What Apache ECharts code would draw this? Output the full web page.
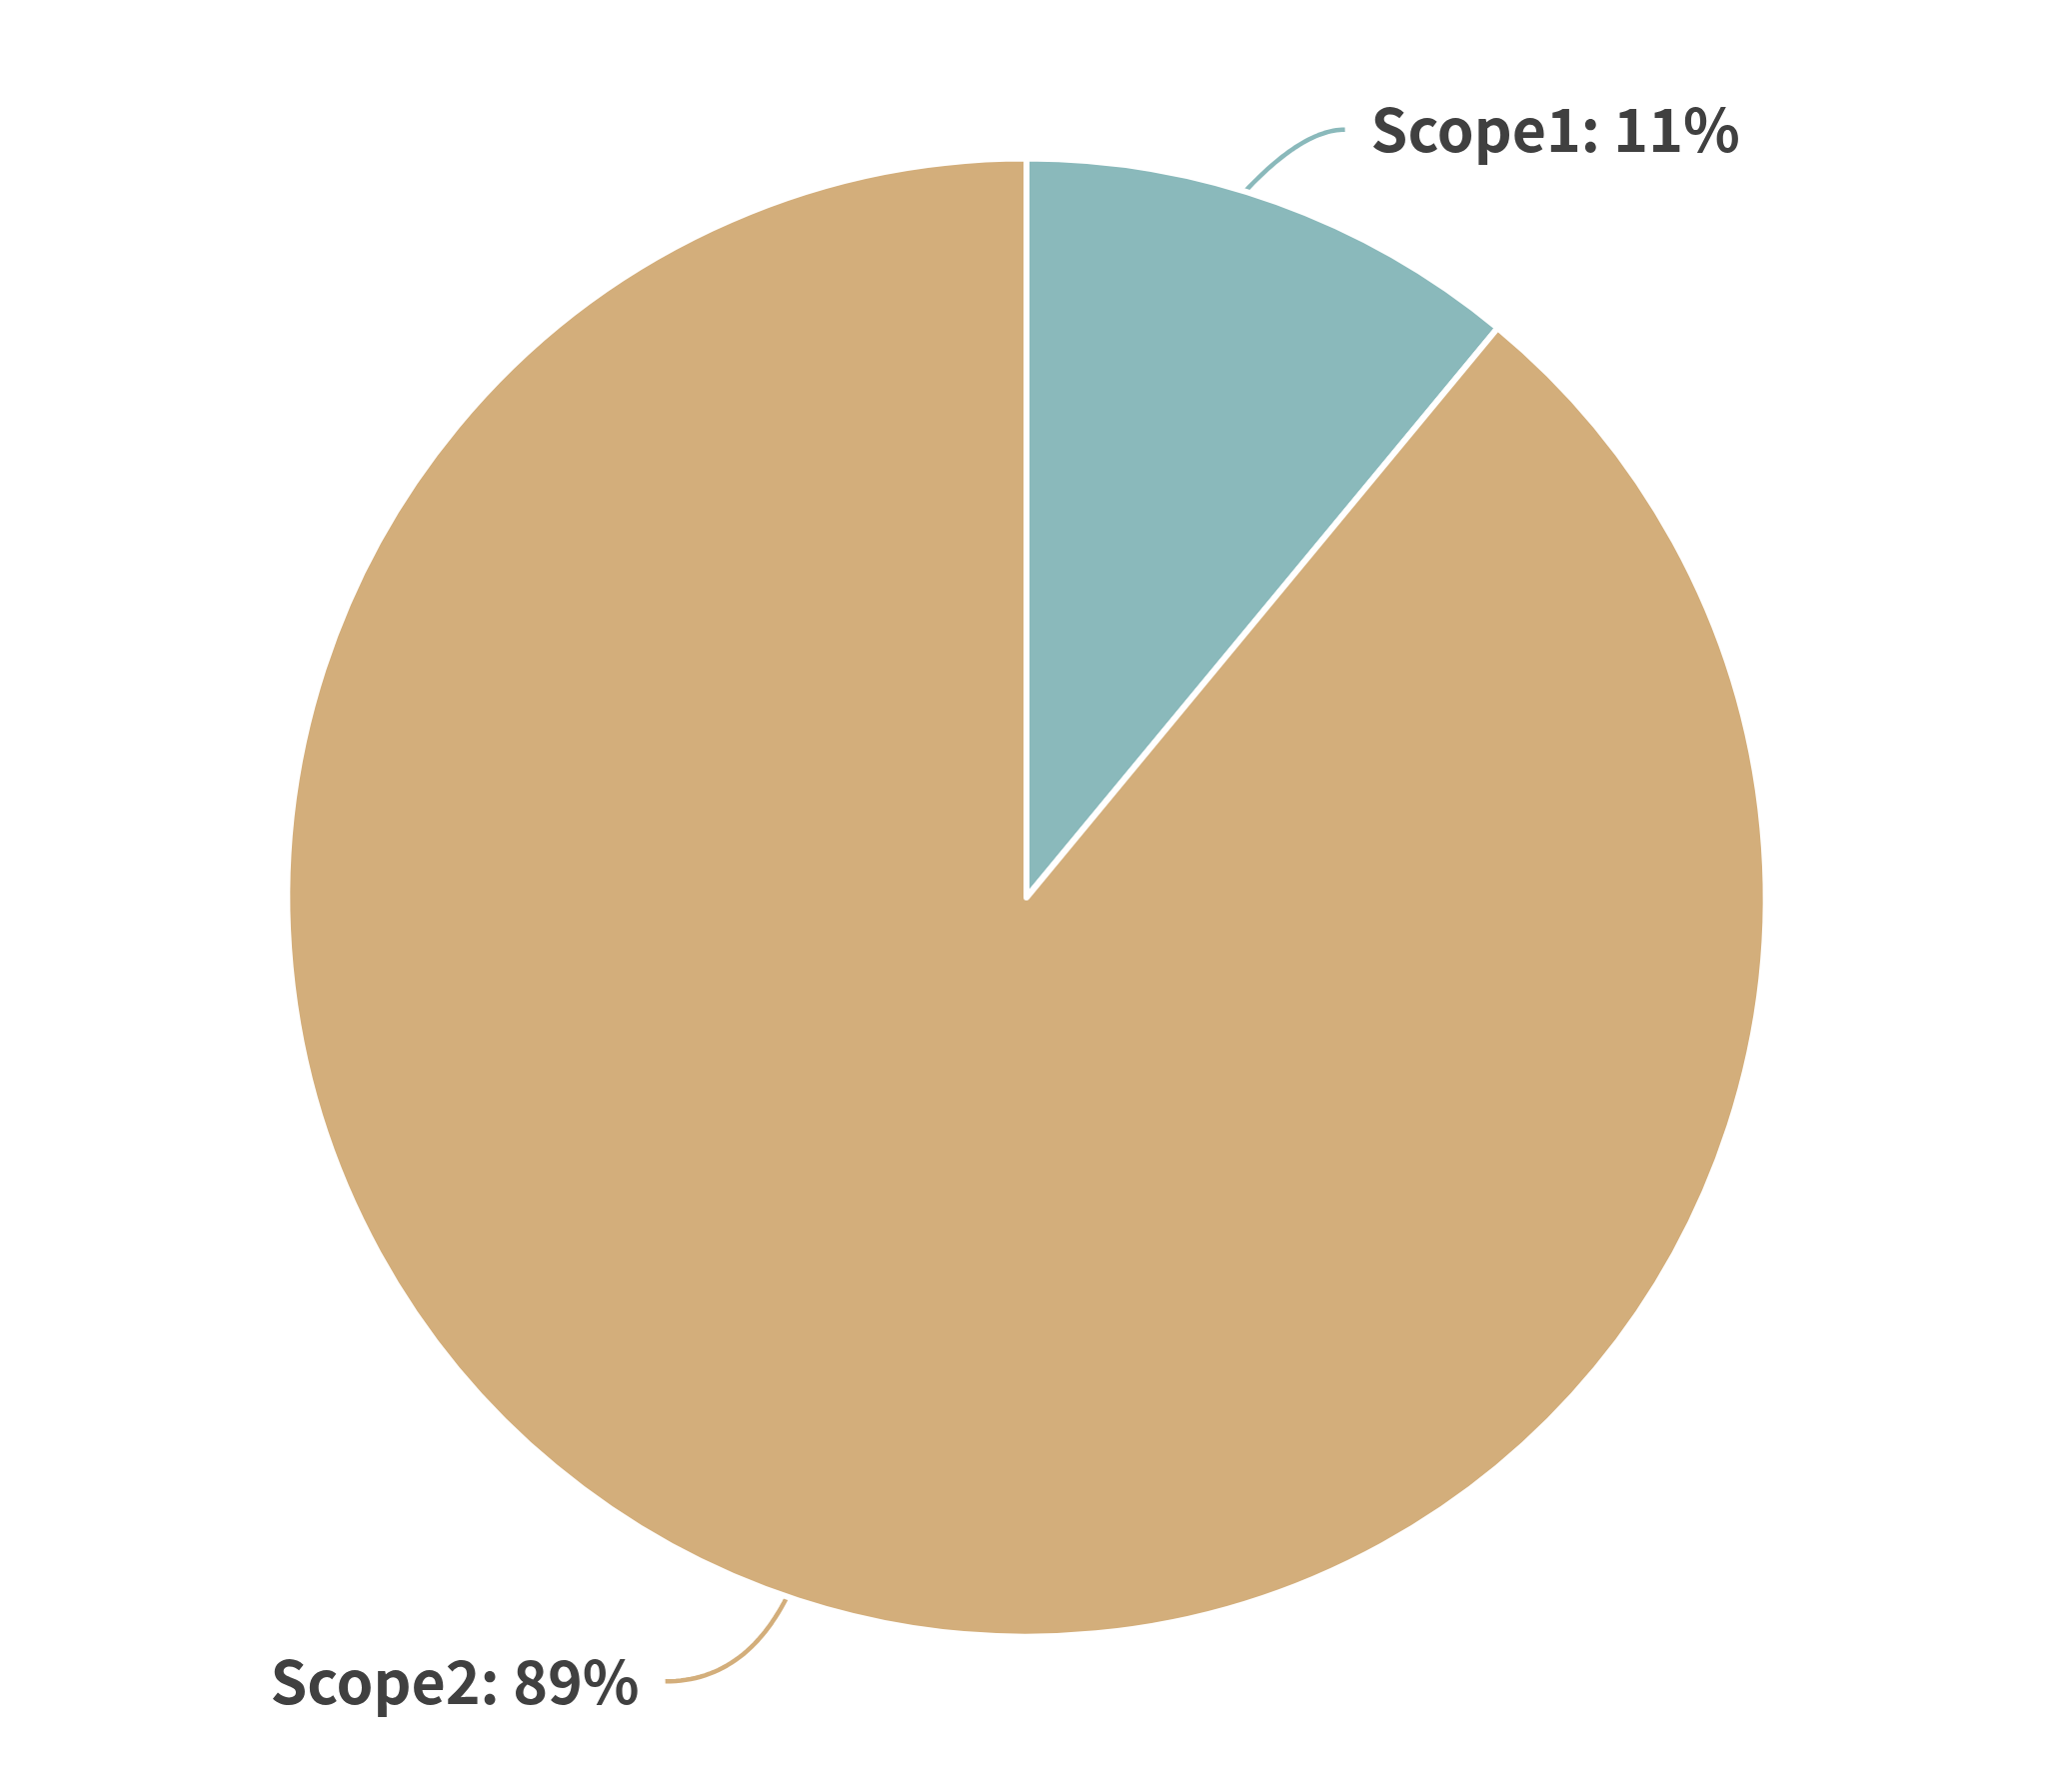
<!DOCTYPE html>
<html>
<head>
<meta charset="utf-8">
<script src="https://cdn.jsdelivr.net/npm/echarts@6/dist/echarts.min.js"></script>
<style>
html,body{margin:0;padding:0;background:#fff;}
#chart{width:2048px;height:1793px;}
</style>
</head>
<body>
<div id="chart"></div>
<script>
const categories = ['Scope1', 'Scope2'];
const values = [11, 89];
const colors = ['#8ab9bb', '#d3ae7b'];

const W = 2048, H = 1793;
const RADIUS_RATIO = 0.825;
const R = Math.min(W, H) / 2 * RADIUS_RATIO;
// small anticlockwise shift (degrees) of where each guide line leaves the pie
const guideStartShift = [2.6, 0.9];

const chart = echarts.init(document.getElementById('chart'), null, {renderer: 'canvas'});
const data = categories.map((name, i) => ({
  name: name,
  value: values[i],
  itemStyle: {color: colors[i]}
}));
data[0].labelLine = {length: 77, length2: 42};

// Turn the library's 3-point guide line into a quadratic curve through its own points
function curvedGuide(params) {
  const p = params.labelLinePoints;
  if (!p || p.length < 3) return {};
  // centre of the pie from the radial first segment
  const vx = p[1][0] - p[0][0], vy = p[1][1] - p[0][1];
  const len = Math.sqrt(vx * vx + vy * vy) || 1;
  const cx = p[0][0] - R * vx / len, cy = p[0][1] - R * vy / len;
  const theta = Math.atan2(p[0][0] - cx, -(p[0][1] - cy)) - (guideStartShift[params.dataIndex] || 0) * Math.PI / 180;
  const s = [cx + R * Math.sin(theta), cy - R * Math.cos(theta)];
  const pts = [];
  const n = 30;
  for (let i = 0; i <= n; i++) {
    const t = i / n, u = 1 - t;
    pts.push([
      u * u * s[0] + 2 * u * t * p[1][0] + t * t * p[2][0],
      u * u * s[1] + 2 * u * t * p[1][1] + t * t * p[2][1]
    ]);
  }
  return {labelLinePoints: pts};
}

chart.setOption({
  animation: false,
  backgroundColor: '#ffffff',
  series: [{
    type: 'pie',
    center: [1027, 898],
    radius: (RADIUS_RATIO * 100) + '%',
    startAngle: 90,
    clockwise: true,
    avoidLabelOverlap: false,
    data: data,
    itemStyle: {borderColor: '#ffffff', borderWidth: 6, borderJoin: 'round'},
    label: {
      show: true,
      formatter: '{b}: {d}%',
      fontFamily: '"Noto Sans CJK JP", sans-serif',
      fontWeight: 'bold',
      fontSize: 59,
      color: '#404040',
      distanceToLabelLine: 26
    },
    labelLine: {
      show: true,
      length: 94,
      length2: 79,
      smooth: false,
      lineStyle: {width: 4.5, cap: 'butt', join: 'round'}
    },
    labelLayout: curvedGuide,
    emphasis: {disabled: true}
  }]
});
</script>
</body>
</html>
